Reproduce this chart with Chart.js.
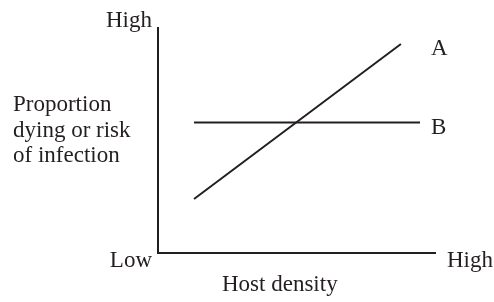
<!DOCTYPE html>
<html>
<head>
<meta charset="utf-8">
<script src="https://cdn.jsdelivr.net/npm/chart.js@4"></script>
<style>
  html, body { margin: 0; padding: 0; background: #fff; }
  #wrap { width: 494px; height: 302px; }
</style>
</head>
<body>
<div id="wrap"><canvas id="myChart" width="494" height="302"></canvas></div>
<script>
// Data (axes run 0..100 in arbitrary units)
var seriesNames = ['A', 'B'];
var lineA = [{ x: 13, y: 24 }, { x: 87.7, y: 92.9 }];
var lineB = [{ x: 13, y: 58 }, { x: 94.6, y: 58 }];
var axisEndLabels = ['Low', 'High'];
var xTitle = 'Host density';
var yTitle = ['Proportion', 'dying or risk', 'of infection'];

var ink = '#231f20';
var font = '23px "Liberation Serif", "Times New Roman", serif';

// Texte runt diagrammet
var textPlugin = {
    id: 'textPlugin',
    afterDraw: function (chart) {
        var c = chart.ctx;
        var a = chart.chartArea;
        c.save();
        c.font = font;
        c.fillStyle = ink;
        c.textBaseline = 'alphabetic';

        c.textAlign = 'right';
        c.fillText(axisEndLabels[1], a.left - 6, a.top - 1);
        c.fillText(axisEndLabels[0], a.left - 6, a.bottom + 14);

        c.textAlign = 'left';
        c.fillText(axisEndLabels[1], a.right + 12, a.bottom + 14);
        c.fillText(xTitle, a.left + 64, a.bottom + 38);

        yTitle.forEach(function (line, i) {
            c.fillText(line, 13, 111 + i * 25.6);
        });

        // serienamn vid linjernas slut
        chart.data.datasets.forEach(function (ds, i) {
            var pts = chart.getDatasetMeta(i).data;
            var last = pts[pts.length - 1];
            c.fillText(ds.label, a.right - 4, last.y + 11.5);
        });
        c.restore();
    }
};

var ctx = document.getElementById('myChart').getContext('2d');
var myChart = new Chart(ctx, {
    type: 'line',
    data: {
        datasets: [
            { label: seriesNames[0], data: lineA },
            { label: seriesNames[1], data: lineB }
        ]
    },
    options: {
        responsive: false,
        animation: false,
        devicePixelRatio: 1,
        layout: { padding: { left: 158, right: 59, top: 28, bottom: 49 } },
        elements: {
            line: { borderColor: ink, borderWidth: 2, tension: 0 },
            point: { radius: 0 }
        },
        plugins: {
            legend: { display: false },
            tooltip: { enabled: false }
        },
        scales: {
            x: {
                type: 'linear', min: 0, max: 100,
                grid: { display: false },
                ticks: { display: false },
                border: { display: true, color: ink, width: 2 },
                afterFit: function (s) { s.height = 0; }
            },
            y: {
                type: 'linear', min: 0, max: 100,
                grid: { display: false },
                ticks: { display: false },
                border: { display: true, color: ink, width: 2 },
                afterFit: function (s) { s.width = 0; }
            }
        }
    },
    plugins: [textPlugin]
});
</script>
</body>
</html>
